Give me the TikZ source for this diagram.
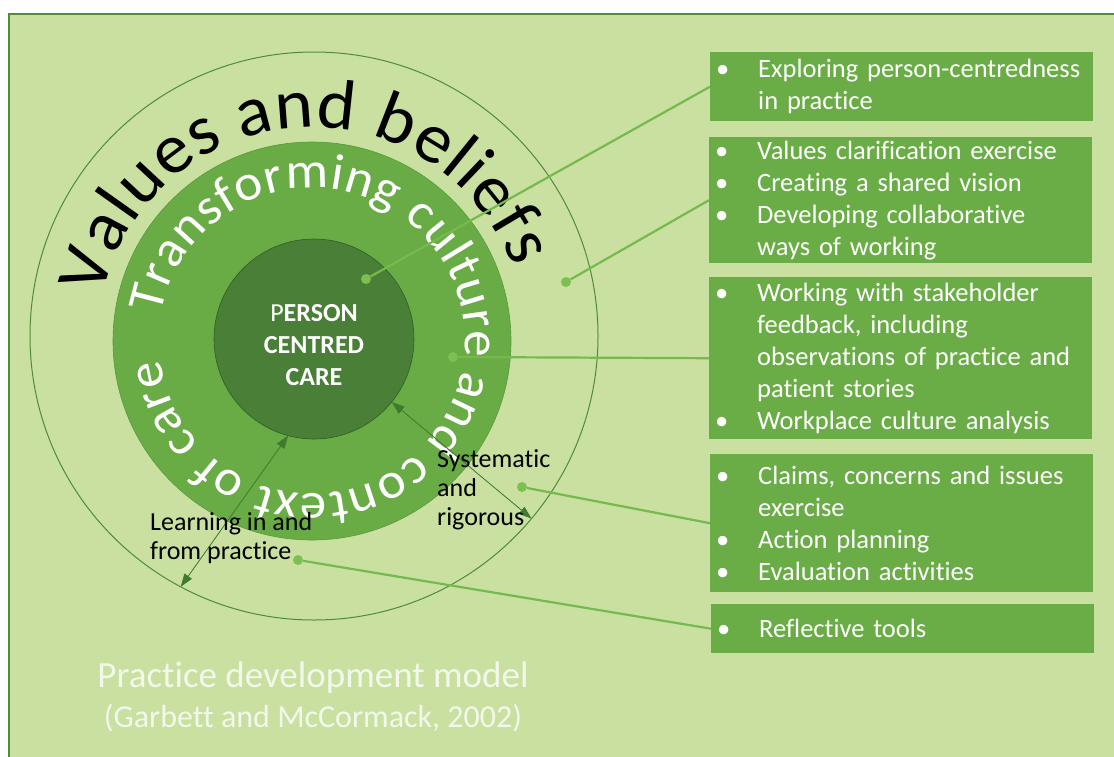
\documentclass[tikz,border=0pt]{standalone}
\usepackage{fontspec}
\setmainfont{Carlito}[Ligatures={NoCommon}]
\usetikzlibrary{positioning, decorations.text, arrows.meta}

\definecolor{pagegreen}{HTML}{C9E0A1}
\definecolor{framegreen}{HTML}{4F8C36}
\definecolor{ringgreen}{HTML}{69AC45}
\definecolor{ringedge}{HTML}{5A9A3A}
\definecolor{coregreen}{HTML}{4A7F37}
\definecolor{coreedge}{HTML}{2F5E22}
\definecolor{boxgreen}{HTML}{6AAD46}
\definecolor{linegreen}{HTML}{76B94C}
\definecolor{dotgreen}{HTML}{7CC052}
\definecolor{arrowgreen}{HTML}{3F7B2F}
\definecolor{paletext}{HTML}{F3F8EC}

\newcommand{\bul}{\makebox[42pt][l]{\textbullet}}
\newcommand{\cont}{\hspace*{42pt}}

\tikzset{
  box/.style={fill=boxgreen, text=white, anchor=north west, inner xsep=6pt, inner ysep=0pt,
    text width=371pt, align=left, font=\fontsize{26.5}{32}\selectfont},
  dot/.style={circle, fill=dotgreen, inner sep=0pt, minimum size=10pt},
  conn/.style={draw=linegreen, line width=2.2pt},
  twoway/.style={{Triangle[length=13pt,width=9pt]}-{Triangle[length=13pt,width=9pt]}, draw=arrowgreen, fill=arrowgreen, line width=0.8pt},
  lbl/.style={inner sep=0pt, align=left, font=\fontsize{26}{29}\selectfont},
}

\begin{document}
\begin{tikzpicture}[x=1pt, y=-1pt]
    \fill[white] (0,0) rectangle (1114,756);
    \useasboundingbox (0,0) rectangle (1114,756);

    % Background panel
    \draw[framegreen, line width=2pt, fill=pagegreen] (9,14) rectangle (1125,770);

    % Three circles
    \node[circle, draw=framegreen, line width=1pt, inner sep=0pt, outer sep=0pt, minimum size=568pt] (outer) at (314,336) {};
    \node[circle, fill=ringgreen, draw=ringedge, line width=0.6pt, inner sep=0pt, outer sep=0pt, minimum size=398pt] (ring) at (312,341) {};
    \node[circle, fill=coregreen, draw=coreedge, line width=0.6pt, inner sep=0pt, outer sep=0pt, minimum size=200pt] (core) at (314,339) {};

    % Curved texts
    \path[decorate, decoration={text along path, text align=fit to path,
      text={|\fontsize{71}{71}\selectfont\addfontfeature{FakeStretch=1.03}|Values and beliefs}}]
      (312,341) ++(-168:214) arc (-168:-20:214);
    \path[decorate, decoration={text along path, text align=fit to path, text color=white,
      text={|\fontsize{51}{51}\selectfont\addfontfeature{FakeStretch=1.04}|Transforming culture and context of care}}]
      (312,341) ++(-170:153) arc (-170:173:153);

    \node[text=white, align=center, inner sep=0pt, font=\bfseries\fontsize{26}{32}\selectfont] (pcc) at (314,345) {{\mdseries P}ERSON\\CENTRED\\CARE};

    % Double arrows
    \draw[twoway] (core.255) -- (outer.242);
    \draw[twoway] (core.321) -- (outer.320);

    \node[lbl, anchor=west] (sys) at (437,490) {Systematic\\and\\rigorous};
    \node[lbl, anchor=west] (learn) at (150,538) {Learning in and\\from practice};

    % Boxes on the right
    \node[box, minimum height=69pt] (b1) at (710,52) {\bul Exploring person-centredness\\\cont in practice};
    \node[box, minimum height=126pt] (b2) at (709,137) {\bul Values clarification exercise\\\bul Creating a shared vision\\\bul Developing collaborative\\\cont ways of working};
    \node[box, minimum height=162pt] (b3) at (709,277) {\bul Working with stakeholder\\\cont feedback, including\\\cont observations of practice and\\\cont patient stories\\\bul Workplace culture analysis};
    \node[box, minimum height=138pt] (b4) at (710,454) {\bul Claims, concerns and issues\\\cont exercise\\\bul Action planning\\\bul Evaluation activities};
    \node[box, minimum height=49pt] (b5) at (711,604) {\bul Reflective tools};

    % Dots and connectors
    \foreach \n/\x/\y in {d1/366/279, d2/566/282, d3/453/357, d4/522/487, d5/298/560} {
      \node[dot] (\n) at (\x,\y) {};
    }
    \foreach \d/\b in {d1/b1, d2/b2, d3/b3, d4/b4, d5/b5} {
      \draw[conn] (\d) -- (\b.west);
    }

    % Caption
    \node[text=paletext, anchor=base, font=\fontsize{37}{37}\selectfont] (title) at (313,687) {Practice development model};
    \node[text=paletext, anchor=base, font=\fontsize{32}{32}\selectfont] (cite) at (313,727) {(Garbett and McCormack, 2002)};
\end{tikzpicture}
\end{document}
